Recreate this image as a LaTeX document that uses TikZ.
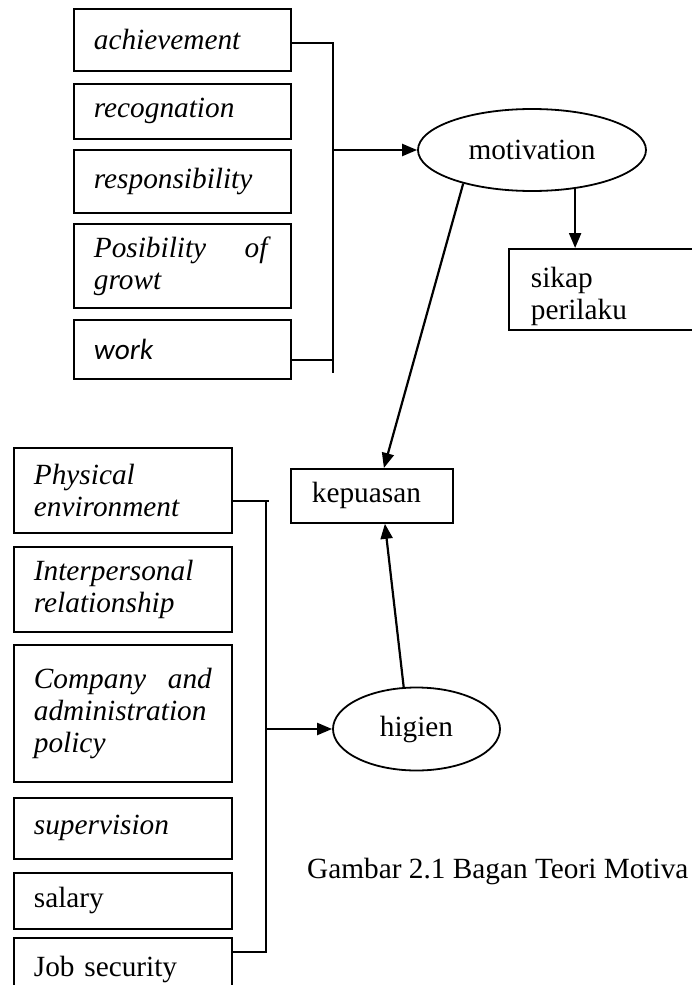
\documentclass[tikz,border=0pt]{standalone}
\usepackage{fontspec}
\setmainfont{Liberation Serif}
\newfontfamily\calib{Carlito}
\usetikzlibrary{arrows.meta,shapes.geometric}
\begin{document}
\begin{tikzpicture}[x=1pt,y=-1pt,
  every node/.style={font=\fontsize{29.3}{32}\selectfont},
  box/.style={draw, line width=1.8pt, rectangle, anchor=north west, inner xsep=20pt, inner ysep=0pt, align=left},
  oval/.style={draw, line width=1.8pt, ellipse, inner sep=0pt},
  link/.style={line width=1.6pt},
  arr/.style={line width=2.2pt, -{Triangle[length=15pt,width=12pt]}}]
\useasboundingbox (0,0) rectangle (691,985);

% motivator factors
\node[box, text width=177pt, minimum width=217pt, minimum height=62pt] (ach) at (73,8) {\textit{achievement}};
\node[box, text width=177pt, minimum width=217pt, minimum height=55pt] (rec) at (73,83) {\textit{recognation}};
\node[box, text width=177pt, minimum width=217pt, minimum height=63pt] (resp) at (73,149) {\textit{responsibility}};
\node[box, text width=177pt, minimum width=217pt, minimum height=84pt] (pos) at (73,223) {\textit{Posibility}\hfill\textit{of}\\\textit{growt}};
\node[box, text width=177pt, minimum width=217pt, minimum height=59pt] (work) at (73,319) {\calib\itshape work};

% hygiene factors
\node[box, text width=178pt, minimum width=218pt, minimum height=85pt] (phys) at (13,447) {\textit{Physical}\\\textit{environment}};
\node[box, text width=178pt, minimum width=218pt, minimum height=85pt] (inter) at (13,546) {\textit{Interpersonal}\\\textit{relationship}};
\node[box, text width=178pt, minimum width=218pt, minimum height=137pt] (comp) at (13,644) {\textit{Company}\hfill\textit{and}\\\textit{administration}\\\textit{policy}};
\node[box, text width=178pt, minimum width=218pt, minimum height=61pt] (sup) at (13,797) {\textit{supervision}};
\node[box, text width=178pt, minimum width=218pt, minimum height=56pt] (sal) at (13,872) {salary};
\node[box, text width=178pt, minimum width=218pt, minimum height=64pt] (job) at (13,937) {Job security};

% right side
\node[oval, minimum width=228pt, minimum height=82pt] (mot) at (532,150) {motivation};
\node[box, inner xsep=22pt, text width=168pt, minimum width=212pt, minimum height=81pt, text height=35pt, text depth=38pt] (sik) at (508,248) {sikap\\perilaku};
\node[box, inner xsep=21pt, text width=120pt, minimum width=162pt, minimum height=54pt] (kep) at (290,468) {kepuasan};
\node[oval, minimum width=167pt, minimum height=83pt] (hig) at (416.5,729) {higien};

\node[anchor=base west, inner sep=0pt] (cap) at (307,878) {Gambar 2.1 Bagan Teori Motiva};

% top bracket
\coordinate (tTop) at (333,43);
\coordinate (tBot) at (333,373);
\coordinate (tWork) at (333,360);
\coordinate (tMid) at (333,150);
\draw[link] (ach.east |- tTop) -- (tTop) -- (tBot);
\draw[link] (work.east |- tWork) -- (tWork);
\draw[arr] (tMid) -- (mot.west);

% bottom bracket
\coordinate (bTop) at (266,501);
\coordinate (bTick) at (269,501);
\coordinate (bBot) at (266,952);
\coordinate (bMid) at (266,729);
\draw[link] (phys.east |- bTop) -- (bTick);
\draw[link] (bTop) -- (bBot) -- (job.east |- bBot);
\draw[arr] (bMid) -- (hig.west);

% arrows between ovals and boxes
\draw[arr] (mot.-42) -- (mot.-42 |- sik.north);
\draw[arr] (mot.-154) -- ([xshift=12pt]kep.north);
\draw[arr] (hig.107) -- ([xshift=13pt]kep.south);
\end{tikzpicture}
\end{document}
